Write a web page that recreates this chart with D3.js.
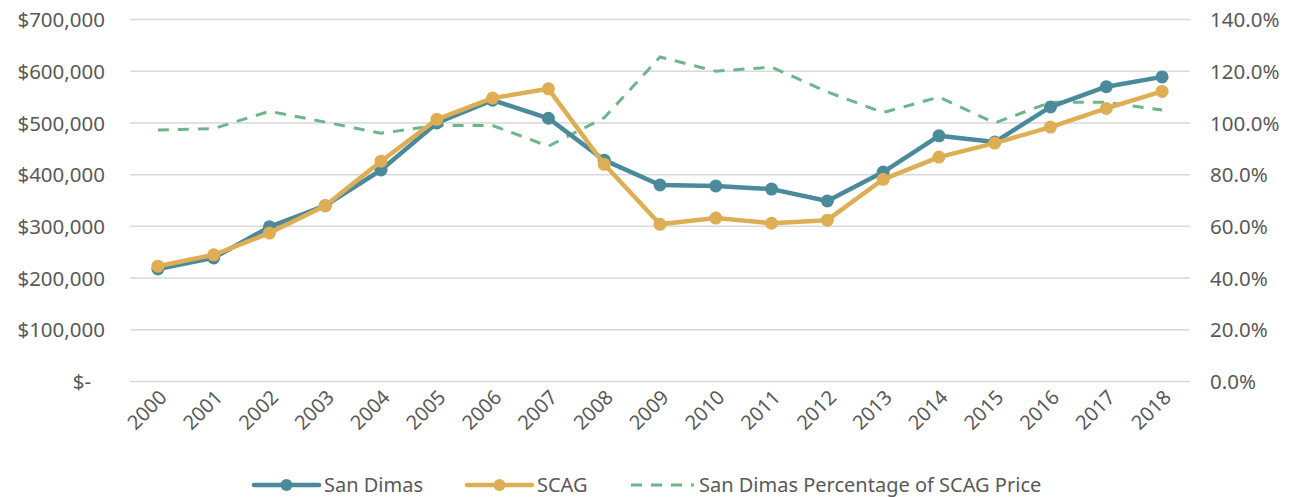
<!DOCTYPE html>
<html><head><meta charset="utf-8">
<script src="https://cdn.jsdelivr.net/npm/d3@7"></script>
<style>
body{margin:0;background:#fff;}
text{font-family:"Noto Sans","Liberation Sans",sans-serif;fill:#595959;}
</style></head>
<body><svg id="c" width="1294" height="497"></svg>
<script>
const years = ["2000","2001","2002","2003","2004","2005","2006","2007","2008","2009","2010","2011","2012","2013","2014","2015","2016","2017","2018"];
const sanDimas = [217500,239000,299000,340000,409000,500000,544000,509000,428000,380000,378000,372000,349000,405000,475000,463000,531000,570000,589000];
const scag = [223000,245000,287000,340000,426000,507000,548000,566000,420000,304000,316000,306000,312000,391000,434000,461000,492000,528000,561000];
const pct = [0.973,0.978,1.045,1.003,0.96,0.99,0.99,0.91,1.02,1.255,1.20,1.216,1.12,1.04,1.10,1.00,1.08,1.08,1.05];
const leftTicks = [0,100000,200000,300000,400000,500000,600000,700000];
const rightTicks = [0,0.2,0.4,0.6,0.8,1.0,1.2,1.4];
const seriesNames = ["San Dimas","SCAG","San Dimas Percentage of SCAG Price"];
const colors = {sd:"#4a8a9a", scag:"#deae55", pct:"#6db68a"};

const svg = d3.select("#c");
const L=130, R=1190, T=19.5, B=381.5;
const x = d3.scaleBand().domain(years).range([L,R]);
const xc = d => x(d)+x.bandwidth()/2;
const y = d3.scaleLinear().domain([0,700000]).range([B,T]);
const y2 = d3.scaleLinear().domain([0,1.4]).range([B,T]);

// gridlines
svg.append("g").selectAll("line").data(leftTicks).join("line")
  .attr("x1",L).attr("x2",R).attr("y1",d=>y(d)).attr("y2",d=>y(d))
  .attr("stroke","#d9d9d9").attr("stroke-width",1.5);

// left axis
const fmtL = d => d===0 ? "$-" : "$"+d3.format(",")(d);
const la = svg.append("g").attr("transform",`translate(${L},0)`)
  .call(d3.axisLeft(y).tickValues(leftTicks).tickFormat(fmtL).tickSize(0).tickPadding(25));
la.select(".domain").remove();
la.selectAll("text").style("font-size","20.5px").attr("dy","0.35em");
la.selectAll("text").filter(d=>d===0).attr("dx","-14");

// right axis
const ra = svg.append("g").attr("transform",`translate(${R},0)`)
  .call(d3.axisRight(y2).tickValues(rightTicks).tickFormat(d3.format(".1%")).tickSize(0).tickPadding(20));
ra.select(".domain").remove();
ra.selectAll("text").style("font-size","20.5px").attr("dy","0.35em");

// x axis
const xa = svg.append("g").attr("transform",`translate(0,${B})`)
  .call(d3.axisBottom(x).tickSize(0));
xa.select(".domain").remove();
xa.selectAll("text").style("font-size","20px")
  .attr("text-anchor","end").attr("dy","0")
  .attr("transform","translate(8,15) rotate(-45)");

// pct dashed line
const linePct = d3.line().x((d,i)=>xc(years[i])).y(d=>y2(d));
svg.append("path").datum(pct).attr("d",linePct)
  .attr("fill","none").attr("stroke",colors.pct).attr("stroke-width",3)
  .attr("stroke-dasharray","11,9");

function drawSeries(data,color){
  const ln = d3.line().x((d,i)=>xc(years[i])).y(d=>y(d));
  svg.append("path").datum(data).attr("d",ln)
    .attr("fill","none").attr("stroke",color).attr("stroke-width",4.5).attr("stroke-linejoin","round");
  svg.append("g").selectAll("circle").data(data).join("circle")
    .attr("cx",(d,i)=>xc(years[i])).attr("cy",d=>y(d)).attr("r",6.5).attr("fill",color);
}
drawSeries(sanDimas,colors.sd);
drawSeries(scag,colors.scag);

// legend
const ly = 485;
const leg = [
  {name:seriesNames[0], c:colors.sd, x0:254, x1:319, marker:true, dash:null},
  {name:seriesNames[1], c:colors.scag, x0:467, x1:532, marker:true, dash:null},
  {name:seriesNames[2], c:colors.pct, x0:631, x1:694, marker:false, dash:"11,9"}
];
leg.forEach(l=>{
  svg.append("line").attr("x1",l.x0).attr("x2",l.x1).attr("y1",ly).attr("y2",ly)
    .attr("stroke",l.c).attr("stroke-width",l.marker?4.5:3).attr("stroke-dasharray",l.dash)
    .attr("stroke-linecap",l.marker?"round":"butt");
  if(l.marker) svg.append("circle").attr("cx",(l.x0+l.x1)/2).attr("cy",ly).attr("r",6).attr("fill",l.c);
  svg.append("text").attr("x",l.x1+5).attr("y",ly).attr("dy","0.35em").style("font-size","20px").text(l.name);
});
</script></body></html>
